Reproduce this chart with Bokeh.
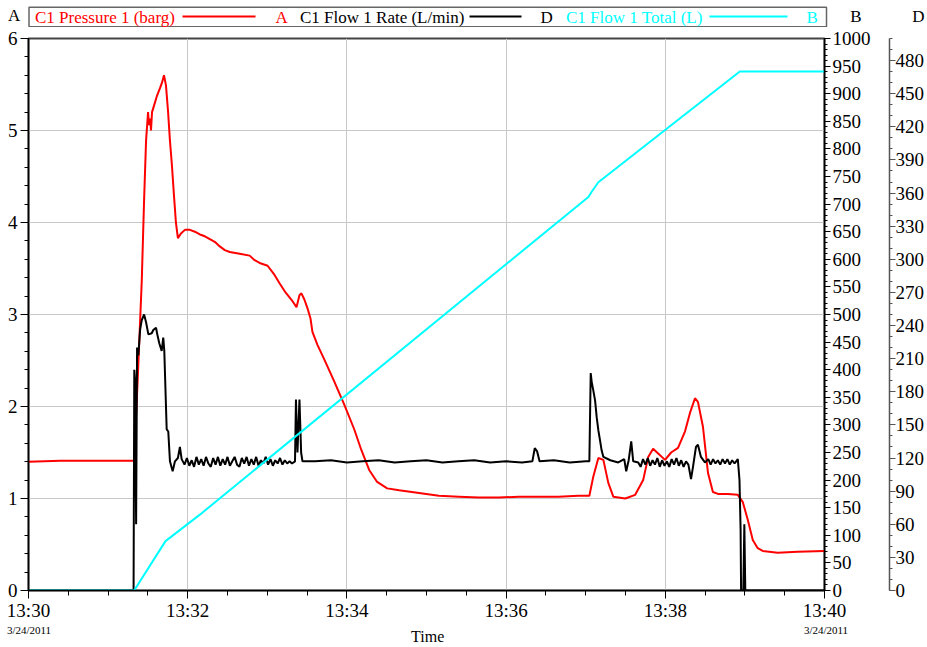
import pandas as pd
from bokeh.plotting import figure
from bokeh.layouts import column
from bokeh.models import (Range1d, LinearAxis, FixedTicker, SingleIntervalTicker,
                          DatetimeTickFormatter, Label)
from bokeh.embed import file_html
from bokeh.resources import INLINE

# ---------------- data (minutes after 13:30 on 3/24/2011) ----------------
START = "2011-03-24 13:30:00"
DATE_TEXT = "3/24/2011"
SPAN_MIN = 10

press_min = [0.00, 0.40, 0.90, 1.314, 1.327, 1.377, 1.423, 1.452, 1.477, 1.502, 1.514, 1.527,
             1.539, 1.552, 1.577, 1.615, 1.652, 1.677, 1.702, 1.727, 1.752, 1.777, 1.802, 1.827,
             1.852, 1.877, 1.915, 1.965, 2.028, 2.090, 2.153, 2.215, 2.278, 2.340, 2.403, 2.466,
             2.528, 2.653, 2.778, 2.841, 2.904, 3.004, 3.091, 3.154, 3.229, 3.304, 3.367, 3.404,
             3.429, 3.467, 3.504, 3.542, 3.567, 3.630, 3.717, 3.842, 3.967, 4.093, 4.180, 4.280,
             4.380, 4.506, 4.656, 4.906, 5.156, 5.407, 5.657, 5.907, 6.158, 6.408, 6.658, 6.909,
             7.046, 7.096, 7.159, 7.222, 7.284, 7.347, 7.497, 7.622, 7.722, 7.785, 7.847, 7.910,
             7.997, 8.073, 8.160, 8.248, 8.310, 8.373, 8.410, 8.473, 8.536, 8.598, 8.661, 8.786,
             8.911, 8.974, 9.036, 9.099, 9.161, 9.224, 9.412, 9.662, 10.0]
press_val = [1.40, 1.41, 1.41, 1.41, 1.41, 2.40, 3.37, 4.24, 4.89, 5.20, 5.06, 5.13,
             5.00, 5.20, 5.27, 5.38, 5.46, 5.52, 5.60, 5.49, 5.22, 4.89, 4.62, 4.30,
             4.00, 3.83, 3.88, 3.92, 3.92, 3.90, 3.87, 3.85, 3.82, 3.79, 3.74, 3.70,
             3.68, 3.66, 3.64, 3.59, 3.56, 3.53, 3.43, 3.34, 3.24, 3.16, 3.08, 3.21,
             3.23, 3.16, 3.07, 2.96, 2.81, 2.67, 2.51, 2.27, 2.02, 1.75, 1.53, 1.31,
             1.18, 1.11, 1.09, 1.06, 1.03, 1.02, 1.01, 1.01, 1.02, 1.02, 1.02, 1.03,
             1.03, 1.24, 1.44, 1.42, 1.17, 1.02, 1.00, 1.04, 1.20, 1.45, 1.54, 1.49,
             1.42, 1.50, 1.55, 1.73, 1.93, 2.09, 2.05, 1.78, 1.28, 1.07, 1.05, 1.05,
             1.04, 0.96, 0.77, 0.55, 0.46, 0.43, 0.41, 0.42, 0.43]

flow_min = [0.0, 1.320, 1.329, 1.339, 1.352, 1.364, 1.380, 1.402, 1.423, 1.452, 1.477, 1.506,
            1.548, 1.568, 1.602, 1.618, 1.643, 1.673, 1.693, 1.706, 1.736, 1.756, 1.777, 1.811,
            1.840, 1.877, 1.902, 1.924,
            1.96, 1.99, 2.02, 2.05, 2.08, 2.11, 2.14, 2.17, 2.20, 2.23, 2.26, 2.29, 2.32, 2.35,
            2.38, 2.41, 2.44, 2.47, 2.50, 2.53, 2.56, 2.59, 2.62, 2.65, 2.68, 2.71, 2.74, 2.77,
            2.80, 2.83, 2.86, 2.89, 2.92, 2.95, 2.98, 3.01, 3.04, 3.07, 3.10, 3.13, 3.16, 3.19,
            3.22, 3.25, 3.28, 3.31,
            3.348, 3.360, 3.379, 3.404, 3.425, 3.442,
            3.6, 3.8, 4.0, 4.2, 4.4, 4.6, 4.8, 5.0, 5.2, 5.4, 5.6, 5.8, 6.0, 6.2,
            6.33, 6.36, 6.39, 6.42, 6.6, 6.8, 7.0,
            7.046, 7.063, 7.075, 7.096, 7.118, 7.138, 7.159, 7.180, 7.200, 7.222, 7.309, 7.409,
            7.484, 7.509, 7.540, 7.572, 7.597,
            7.66, 7.69, 7.72, 7.75, 7.78, 7.81, 7.84, 7.87, 7.90, 7.93, 7.96, 7.99, 8.02, 8.05,
            8.08, 8.11, 8.14, 8.17, 8.20, 8.23, 8.26, 8.29,
            8.323, 8.348, 8.385, 8.410, 8.448, 8.498,
            8.54, 8.57, 8.60, 8.63, 8.66, 8.69, 8.72, 8.75, 8.78, 8.81, 8.84, 8.87, 8.89,
            8.911, 8.932, 8.946, 8.952, 8.980, 8.993, 9.005, 10.0]
flow_val = [0, 0, 200, 190, 60, 220, 213, 236, 245, 250, 243, 232,
            233, 236, 238, 232, 224, 217, 229, 217, 146, 144, 117, 108,
            117, 120, 130, 119,
            114, 120, 113, 118, 112, 121, 114, 119, 113, 121, 115, 112, 120, 114,
            121, 113, 119, 114, 121, 113, 117, 121, 114, 112, 120, 115, 121, 113,
            119, 114, 121, 113, 118, 115, 121, 114, 119, 113, 118, 115, 120, 114,
            118, 115, 117, 115,
            117, 173, 125, 173, 125, 117,
            117, 118, 116, 117, 118, 116, 117, 118, 116, 117, 118, 116, 117, 116,
            117, 129, 126, 117, 118, 116, 117,
            117, 197, 189, 181, 172, 157, 145, 136, 127, 121, 118, 116,
            119, 108, 118, 135, 117,
            116, 112, 119, 114, 120, 113, 118, 114, 120, 112, 118, 113, 117, 112,
            119, 114, 120, 113, 118, 112, 117, 114,
            101, 112, 130, 132, 121, 116,
            119, 114, 119, 115, 118, 114, 119, 115, 119, 114, 118, 115, 117,
            119, 100, 55, 0, 0, 60, 0, 0]

total_min = [0.0, 1.327, 1.721, 2.153, 7.034, 7.071, 7.159, 8.936, 10.0]
total_val = [0, 0, 89.5, 137.4, 713, 721.5, 739.6, 940.3, 940.3]

a_lim = (0, 6)        # axis A (barg)
b_lim = (0, 1000)     # axis B (L)
d_lim = (0, 500)      # axis D (L/min)

legend_items = [("C1 Pressure 1 (barg)", "A", "#ff0000"),
                ("C1 Flow 1 Rate (L/min)", "D", "#000000"),
                ("C1 Flow 1 Total (L)", "B", "#00ffff")]

# ---------------- layout constants (pixels) ----------------
FONT = "Liberation Serif"
W = 927
TOP_H = 27
MAIN_H = 596
BOT_H = 24

base = pd.Timestamp(START)
def to_dt(mins):
    return [base + pd.Timedelta(seconds=m * 60) for m in mins]

def strip(height, y0):
    f = figure(width=W, height=height, x_range=Range1d(0, W),
               y_range=Range1d(y0 + height, y0), output_backend="svg",
               toolbar_location=None, x_axis_location=None, y_axis_location=None,
               min_border=0, min_border_left=0, min_border_right=0, min_border_top=0,
               min_border_bottom=0, outline_line_color=None, frame_align=False,
               background_fill_color="white", border_fill_color="white")
    f.grid.visible = False
    return f

def lab(f, x, y, text, size, color="black", align="left"):
    f.add_layout(Label(x=x, y=y, text=text, text_font=FONT, text_font_size=size,
                       text_color=color, text_baseline="middle", text_align=align))

# ---------------- top strip: legend + axis tags ----------------
top = strip(TOP_H, 0)
top.quad(left=28.5, right=826, top=6.8, bottom=26.2, fill_color="white",
         line_color="#666666", line_width=1.5)
leg_text_x = [34.5, 299.5, 565.5]
leg_line = [(182, 255), (469, 521), (709, 787)]
leg_tag_x = [275, 540, 806]
for (name, tag, col), tx, (l0, l1), gx_ in zip(legend_items, leg_text_x, leg_line, leg_tag_x):
    lab(top, tx, 16.8, name, "17px", col)
    top.segment(x0=[l0], x1=[l1], y0=[16], y1=[16], line_color=col, line_width=2)
    lab(top, gx_, 16.8, tag, "17px", col)
for tag, xc, yc in [("A", 13.7, 15), ("B", 855.5, 15.6), ("D", 918, 15.6)]:
    lab(top, xc, yc, tag, "17px", "black", "center")

# ---------------- main plot ----------------
p = figure(width=W, height=MAIN_H, x_axis_type="datetime",
           x_range=Range1d(base, base + pd.Timedelta(minutes=SPAN_MIN)),
           y_range=Range1d(*a_lim),
           output_backend="svg", toolbar_location=None, frame_align=False,
           min_border_left=28, min_border_right=0, min_border_top=38 - TOP_H,
           min_border_bottom=32, outline_line_color="#444444", outline_line_width=2,
           background_fill_color="white", border_fill_color="white")
p.extra_y_ranges = {"B": Range1d(*b_lim), "D": Range1d(*d_lim)}

maj = [(base + pd.Timedelta(minutes=m)).value / 1e6 for m in range(0, SPAN_MIN + 1, 2)]
mnr = [(base + pd.Timedelta(seconds=30 * k)).value / 1e6 for k in range(0, 2 * SPAN_MIN + 1)]
xticker = FixedTicker(ticks=maj, minor_ticks=mnr)

p.xgrid.ticker = xticker
p.ygrid.ticker = SingleIntervalTicker(interval=1)
p.grid.grid_line_color = "#c8c8c8"
p.grid.grid_line_width = 1

def style_axis(ax, color="black"):
    ax.major_label_text_font = FONT
    ax.major_label_text_font_size = "19px"
    ax.major_label_text_color = "black"
    ax.axis_line_color = color
    ax.axis_line_width = 1.5
    ax.major_tick_line_color = color
    ax.minor_tick_line_color = color
    ax.major_tick_line_width = 1
    ax.minor_tick_line_width = 1
    ax.major_tick_in = 0
    ax.minor_tick_in = 0

xa = p.xaxis[0]
style_axis(xa)
xa.ticker = xticker
fmt = "%H:%M"
xa.formatter = DatetimeTickFormatter(seconds=fmt, minsec=fmt, minutes=fmt, hourmin=fmt, hours=fmt)
xa.major_tick_out = 8
xa.minor_tick_out = 5
xa.major_label_standoff = 1

ya = p.yaxis[0]
style_axis(ya)
ya.ticker = SingleIntervalTicker(interval=1, num_minor_ticks=5)
ya.major_tick_out = 8
ya.minor_tick_out = 4
ya.major_label_standoff = 3

ax_b = LinearAxis(y_range_name="B", ticker=SingleIntervalTicker(interval=50, num_minor_ticks=5))
style_axis(ax_b)
ax_b.major_tick_out = 6
ax_b.minor_tick_out = 3
ax_b.major_label_standoff = 2
ax_b.axis_label = "\u00a0"
ax_b.axis_label_text_font_size = "11.5px"
ax_b.axis_label_standoff = 1
p.add_layout(ax_b, "right")

ax_d = LinearAxis(y_range_name="D", ticker=SingleIntervalTicker(interval=30, num_minor_ticks=3))
style_axis(ax_d, "#555555")
ax_d.major_tick_out = 6
ax_d.minor_tick_out = 3
ax_d.major_label_standoff = 0
p.add_layout(ax_d, "right")

p.line(to_dt(press_min), press_val, line_color="#ff0000", line_width=2)
p.line(to_dt(flow_min), flow_val, line_color="black", line_width=2, y_range_name="D")
p.line(to_dt(total_min), total_val, line_color="#00ffff", line_width=2, y_range_name="B")

# ---------------- bottom strip: dates + axis title ----------------
y_bot = TOP_H + MAIN_H
bot = strip(BOT_H, y_bot)
lab(bot, 28.5, 629.3, DATE_TEXT, "11px", "black", "center")
lab(bot, 825.5, 629.3, DATE_TEXT, "11px", "black", "center")
lab(bot, 427.2, 636.3, "Time", "16px", "black", "center")

layout = column(top, p, bot, spacing=0)
open("out.html", "w").write(file_html(layout, INLINE))
